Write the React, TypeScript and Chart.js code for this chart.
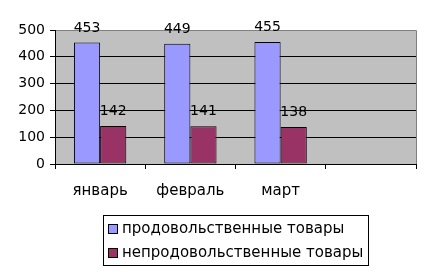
import React, { useEffect, useRef } from "react";
import { Chart, registerables } from "chart.js";

Chart.register(...registerables);

const categories = ["январь", "февраль", "март", ""];
const foodLabel = "продовольственные товары";
const nonFoodLabel = "непродовольственные товары";
const foodValues = [453, 449, 455, null];
const nonFoodValues = [142, 141, 138, null];
const yTicks = [0, 100, 200, 300, 400, 500];

const FONT = "'DejaVu Sans', Verdana, sans-serif";

const plotBg = {
  id: "plotBg",
  beforeDraw(chart: any) {
    const { ctx, chartArea: a } = chart;
    ctx.save();
    ctx.fillStyle = "#c0c0c0";
    ctx.fillRect(a.left, a.top, a.right - a.left, a.bottom - a.top);
    ctx.strokeStyle = "#808080";
    ctx.lineWidth = 1;
    ctx.beginPath();
    ctx.moveTo(a.left, Math.round(a.top) + 0.5);
    ctx.lineTo(Math.round(a.right) + 0.5, Math.round(a.top) + 0.5);
    ctx.lineTo(Math.round(a.right) + 0.5, a.bottom);
    ctx.stroke();
    ctx.restore();
  },
};

const valueLabels = {
  id: "valueLabels",
  afterDatasetsDraw(chart: any) {
    const { ctx } = chart;
    ctx.save();
    ctx.fillStyle = "#000";
    ctx.font = `14px ${FONT}`;
    ctx.textAlign = "center";
    ctx.textBaseline = "alphabetic";
    chart.data.datasets.forEach((ds: any, i: number) => {
      const meta = chart.getDatasetMeta(i);
      meta.data.forEach((el: any, j: number) => {
        const v = ds.data[j];
        if (v == null) return;
        ctx.fillText(String(v), el.x, el.y - 11);
      });
    });
    ctx.restore();
  },
};

const boxLegend = {
  id: "boxLegend",
  afterDraw(chart: any) {
    const { ctx } = chart;
    ctx.save();
    ctx.font = `15px ${FONT}`;
    const items = chart.data.datasets;
    const widths = items.map((d: any) => ctx.measureText(d.label).width);
    const maxW = Math.max(...widths);
    const left = 103;
    const top = 215;
    const textX = left + 19;
    const w = textX - left + maxW + 5;
    const h = 50;
    ctx.strokeStyle = "#000";
    ctx.lineWidth = 1;
    ctx.strokeRect(left + 0.5, top + 0.5, Math.round(w), h);
    items.forEach((d: any, i: number) => {
      const cy = top + 14 + i * 24;
      ctx.fillStyle = d.backgroundColor;
      ctx.fillRect(left + 5.5, cy - 4.5, 9, 9);
      ctx.strokeStyle = "#000";
      ctx.strokeRect(left + 5.5, cy - 4.5, 9, 9);
      ctx.fillStyle = "#000";
      ctx.textBaseline = "middle";
      ctx.textAlign = "left";
      ctx.fillText(d.label, textX, cy);
    });
    ctx.restore();
  },
};

export default function App() {
  const ref = useRef<HTMLCanvasElement>(null);
  useEffect(() => {
    if (!ref.current) return;
    const chart = new Chart(ref.current, {
      type: "bar",
      data: {
        labels: categories,
        datasets: [
          {
            label: foodLabel,
            data: foodValues as any,
            backgroundColor: "#9999ff",
            borderColor: "#000",
            borderWidth: 1,
            borderSkipped: false,
          },
          {
            label: nonFoodLabel,
            data: nonFoodValues as any,
            backgroundColor: "#993366",
            borderColor: "#000",
            borderWidth: 1,
            borderSkipped: false,
          },
        ],
      },
      options: {
        responsive: false,
        animation: false,
        layout: { padding: { top: 30, right: 16, left: 0, bottom: 0 } },
        datasets: { bar: { categoryPercentage: 0.58, barPercentage: 1 } },
        plugins: {
          legend: { display: false },
          tooltip: { enabled: false },
        },
        scales: {
          x: {
            grid: {
              offset: true,
              drawOnChartArea: false,
              drawTicks: true,
              tickLength: 5,
              color: "#000",
            },
            border: { color: "#000" },
            ticks: {
              color: "#000",
              font: { size: 15, family: FONT },
              padding: 13,
              maxRotation: 0,
              autoSkip: false,
            },
            afterFit: (s: any) => {
              s.height = 110;
            },
          },
          y: {
            min: yTicks[0],
            max: yTicks[yTicks.length - 1],
            afterBuildTicks: (s: any) => {
              s.ticks = yTicks.map((v) => ({ value: v }));
            },
            grid: {
              color: (c: any) =>
                c.tick && c.tick.value === yTicks[yTicks.length - 1]
                  ? "rgba(0,0,0,0)"
                  : "#000",
              tickColor: "#000",
              tickLength: 5,
            },
            border: { color: "#000" },
            ticks: {
              color: "#000",
              font: { size: 14, family: FONT },
              padding: 5,
            },
            afterFit: (s: any) => {
              s.width = 55;
            },
          },
        },
      },
      plugins: [plotBg, valueLabels, boxLegend],
    });
    return () => chart.destroy();
  }, []);
  return (
    <div style={{ position: "absolute", left: 0, top: 0, width: 432, height: 274, background: "#fff" }}>
      <canvas ref={ref} width={432} height={274} style={{ width: 432, height: 274, display: "block" }} />
    </div>
  );
}
